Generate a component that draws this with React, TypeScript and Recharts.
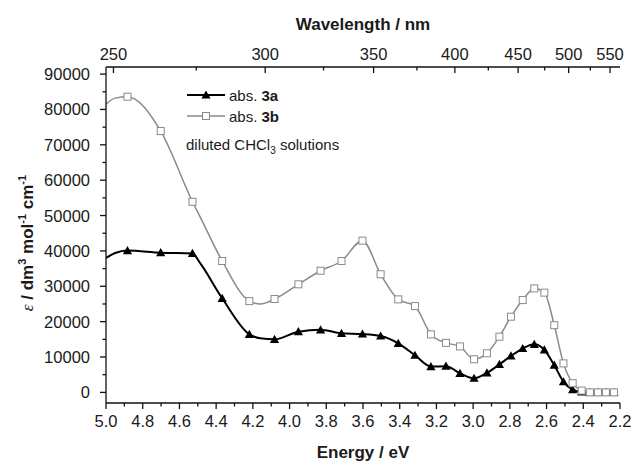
import React from 'react';
import { LineChart, Line, XAxis, YAxis, Legend } from 'recharts';

// ---- data ----
const energyEV = [
  5.0, 4.95, 4.883, 4.702, 4.529, 4.488, 4.367, 4.219, 4.16, 4.082, 3.952, 3.831, 3.717, 3.603,
  3.504, 3.408, 3.317, 3.23, 3.148, 3.072, 2.995, 2.925, 2.857, 2.794, 2.73, 2.667, 2.612, 2.558,
  2.508, 2.458, 2.409, 2.364, 2.32, 2.277, 2.233,
];
const abs3a = [
  38000, 39400, 40100, 39500, 39300, 36600, 26600, 16400, 15300, 15000, 17160, 17700, 16700, 16500,
  15950, 13880, 10500, 7300, 7400, 5400, 3990, 5500, 7900, 10300, 12400, 13600, 12000, 7700,
  3000, 800, 100, 0, 0, 0, 0,
];
const abs3b = [
  81500, 83200, 83600, 73900, 53900, 49700, 37150, 25800, 25000, 26400, 30560, 34400, 37150, 42900,
  33400, 26300, 24400, 16400, 14000, 13000, 9360, 11050, 15750, 21400, 26100, 29400, 28200, 19000,
  8200, 2600, 500, 0, 0, 0, 0,
];
const hasMarker = [
  0, 0, 1, 1, 1, 0, 1, 1, 0, 1, 1, 1, 1, 1,
  1, 1, 1, 1, 1, 1, 1, 1, 1, 1, 1, 1, 1, 1,
  1, 1, 1, 1, 1, 1, 1,
];

const energyTicks = [
  5.0, 4.9, 4.8, 4.7, 4.6, 4.5, 4.4, 4.3, 4.2, 4.1, 4.0, 3.9, 3.8, 3.7, 3.6, 3.5, 3.4, 3.3, 3.2,
  3.1, 3.0, 2.9, 2.8, 2.7, 2.6, 2.5, 2.4, 2.3, 2.2,
];
const energyLabels = [5.0, 4.8, 4.6, 4.4, 4.2, 4.0, 3.8, 3.6, 3.4, 3.2, 3.0, 2.8, 2.6, 2.4, 2.2];
const epsTicks = [
  0, 5000, 10000, 15000, 20000, 25000, 30000, 35000, 40000, 45000, 50000, 55000, 60000, 65000,
  70000, 75000, 80000, 85000, 90000,
];
const epsLabels = [0, 10000, 20000, 30000, 40000, 50000, 60000, 70000, 80000, 90000];
const wavelengthTicks = [250, 275, 300, 325, 350, 375, 400, 425, 450, 475, 500, 525, 550];
const wavelengthLabels = [250, 300, 350, 400, 450, 500, 550];

const HC_EV_NM = 1239.84;

const data = energyEV.map((e, i) => ({ e, a: abs3a[i], b: abs3b[i], m: hasMarker[i] }));
const topTickEnergies = wavelengthTicks.map((w) => HC_EV_NM / w);

const FONT = '"Liberation Sans", Arial, Helvetica, sans-serif';
const AX = '#111';
const TXT = '#1a1a1a';
const GRAY = '#8a8a8a';
const TICK_FS = 16.5;
const TITLE_FS = 17;

const near = (list: number[], v: number) => list.some((l) => Math.abs(l - v) < 1e-6);

function BottomTick(props: any) {
  const { x, y, payload } = props;
  const v = payload.value as number;
  const major = near(energyLabels, v);
  return (
    <g>
      <line x1={x} x2={x} y1={y} y2={y + (major ? 6 : 3.5)} stroke={AX} strokeWidth={1.3} />
      {major && (
        <text x={x} y={y + 24} textAnchor="middle" fontSize={TICK_FS} fontFamily={FONT} fill={TXT}>
          {v.toFixed(1)}
        </text>
      )}
    </g>
  );
}

function TopTick(props: any) {
  const { x, y, payload } = props;
  const wl = Math.round(HC_EV_NM / (payload.value as number));
  const major = wavelengthLabels.includes(wl);
  return (
    <g>
      <line x1={x} x2={x} y1={y} y2={y + (major ? 6 : 3.5)} stroke={AX} strokeWidth={1.3} />
      {major && (
        <text x={x} y={y - 7} textAnchor="middle" fontSize={TICK_FS} fontFamily={FONT} fill={TXT}>
          {wl}
        </text>
      )}
    </g>
  );
}

function LeftTick(props: any) {
  const { x, y, payload } = props;
  const v = payload.value as number;
  const major = near(epsLabels, v);
  return (
    <g>
      <line x1={x - (major ? 6 : 3.5)} x2={x} y1={y} y2={y} stroke={AX} strokeWidth={1.3} />
      {major && (
        <text x={x - 16} y={y + 6} textAnchor="end" fontSize={TICK_FS} fontFamily={FONT} fill={TXT}>
          {v}
        </text>
      )}
    </g>
  );
}

function YTitle(props: any) {
  const vb = props.viewBox || { x: 0, y: 67, width: 106, height: 336 };
  const cx = vb.x + 33;
  const cy = vb.y + vb.height / 2 + 8;
  return (
    <text
      x={cx}
      y={cy}
      transform={`rotate(-90 ${cx} ${cy})`}
      textAnchor="middle"
      fontSize={TITLE_FS}
      fontWeight="bold"
      fontFamily={FONT}
      fill={TXT}
    >
      <tspan fontFamily='"Liberation Serif", "DejaVu Serif", serif' fontStyle="italic" fontWeight="normal">ε</tspan>
      <tspan> / dm</tspan>
      <tspan fontSize={11} dy={-7}>3</tspan>
      <tspan dy={7}> mol</tspan>
      <tspan fontSize={11} dy={-7}>-1</tspan>
      <tspan dy={7}> cm</tspan>
      <tspan fontSize={11} dy={-7}>-1</tspan>
    </text>
  );
}

function TopTitle(props: any) {
  const vb = props.viewBox || { x: 106, y: 27, width: 514, height: 40 };
  return (
    <text x={vb.x + vb.width / 2} y={vb.y + 3} textAnchor="middle" fontSize={TITLE_FS} fontWeight="bold" fontFamily={FONT} fill={TXT}>
      Wavelength / nm
    </text>
  );
}

function BottomTitle(props: any) {
  const vb = props.viewBox || { x: 106, y: 403, width: 514, height: 40 };
  return (
    <text x={vb.x + vb.width / 2} y={vb.y + 55} textAnchor="middle" fontSize={TITLE_FS} fontWeight="bold" fontFamily={FONT} fill={TXT}>
      Energy / eV
    </text>
  );
}

function triPath(cx: number, cy: number) {
  const h = 4.6;
  return `M${cx},${cy - h} L${cx + h},${cy + h * 0.78} L${cx - h},${cy + h * 0.78} Z`;
}

function TriDot(props: any) {
  const { cx, cy, payload, index } = props;
  if (!payload || !payload.m || cx == null || cy == null) return <g key={`ta${index}`} />;
  return <path key={`ta${index}`} d={triPath(cx, cy)} fill="#000" />;
}

function SqDot(props: any) {
  const { cx, cy, payload, index } = props;
  if (!payload || !payload.m || cx == null || cy == null) return <g key={`sb${index}`} />;
  return <rect key={`sb${index}`} x={cx - 3.5} y={cy - 3.5} width={7} height={7} fill="#fff" stroke={GRAY} strokeWidth={1} />;
}

function LegendBox() {
  return (
    <svg width={270} height={80} style={{ overflow: 'visible' }}>
      <line x1={7} x2={45} y1={12} y2={12} stroke="#000" strokeWidth={2} />
      <path d={triPath(26, 12)} fill="#000" />
      <text x={49} y={17.5} fontSize={15} fontFamily={FONT} fill={TXT}>
        abs. <tspan fontWeight="bold">3a</tspan>
      </text>
      <line x1={7} x2={45} y1={33} y2={33} stroke={GRAY} strokeWidth={1.5} />
      <rect x={22.5} y={29.5} width={7} height={7} fill="#fff" stroke={GRAY} strokeWidth={1} />
      <text x={49} y={38.5} fontSize={15} fontFamily={FONT} fill={TXT}>
        abs. <tspan fontWeight="bold">3b</tspan>
      </text>
      <text x={6} y={67} fontSize={15} fontFamily={FONT} fill={TXT}>
        diluted CHCl<tspan fontSize={10} dy={4}>3</tspan><tspan dy={-4}> solutions</tspan>
      </text>
    </svg>
  );
}

export default function App() {
  return (
    <div style={{ position: 'absolute', left: 0, top: 0, width: 633, height: 463, background: '#fff' }}>
      <LineChart width={633} height={463} data={data} margin={{ top: 27, right: 13, bottom: 20, left: 0 }}>
        <XAxis
          xAxisId="bottom"
          dataKey="e"
          type="number"
          domain={[2.2, 5.0]}
          reversed
          allowDataOverflow
          orientation="bottom"
          height={40}
          ticks={energyTicks}
          interval={0}
          tickSize={0}
          tickMargin={0}
          tick={<BottomTick />}
          axisLine={{ stroke: AX, strokeWidth: 1.3 }}
          label={<BottomTitle />}
        />
        <XAxis
          xAxisId="top"
          dataKey="e"
          type="number"
          domain={[2.2, 5.0]}
          reversed
          allowDataOverflow
          orientation="top"
          height={40}
          ticks={topTickEnergies}
          interval={0}
          tickSize={0}
          tickMargin={0}
          tick={<TopTick />}
          axisLine={{ stroke: AX, strokeWidth: 1.3 }}
          label={<TopTitle />}
        />
        <YAxis
          yAxisId="left"
          type="number"
          domain={[-3000, 92000]}
          allowDataOverflow
          width={106}
          ticks={epsTicks}
          interval={0}
          tickSize={0}
          tickMargin={0}
          tick={<LeftTick />}
          axisLine={{ stroke: AX, strokeWidth: 1.3 }}
          label={<YTitle />}
        />
        <YAxis
          yAxisId="right"
          orientation="right"
          type="number"
          domain={[-3000, 92000]}
          allowDataOverflow
          width={0}
          tick={false}
          tickLine={false}
          axisLine={{ stroke: AX, strokeWidth: 1.3 }}
        />
        <Legend
          layout="vertical"
          align="center"
          verticalAlign="middle"
          wrapperStyle={{ left: 180, top: 83, width: 270, height: 80 }}
          content={() => <LegendBox />}
        />
        {/* invisible series binding the top (wavelength) axis to the same energy data */}
        <Line
          xAxisId="top"
          yAxisId="right"
          type="monotone"
          dataKey="a"
          stroke="none"
          dot={false}
          activeDot={false}
          legendType="none"
          isAnimationActive={false}
        />
        <Line
          xAxisId="bottom"
          yAxisId="left"
          type="monotone"
          dataKey="a"
          name="abs. 3a"
          stroke="#000"
          strokeWidth={2}
          dot={TriDot}
          activeDot={false}
          isAnimationActive={false}
        />
        <Line
          xAxisId="bottom"
          yAxisId="left"
          type="monotone"
          dataKey="b"
          name="abs. 3b"
          stroke={GRAY}
          strokeWidth={1.5}
          dot={SqDot}
          activeDot={false}
          isAnimationActive={false}
        />
      </LineChart>
    </div>
  );
}
